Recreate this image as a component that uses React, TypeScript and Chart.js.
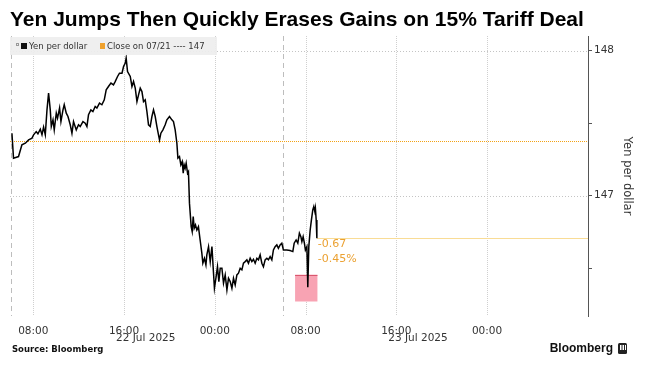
import React, { useEffect, useRef } from "react";
import { Chart, registerables } from "chart.js";

Chart.register(...registerables);

// Hours counted from 00:00 on 22 Jul 2025
const hours = [
  6.12, 6.26, 6.7, 7.0, 7.3, 7.59, 7.89, 8.03, 8.26, 8.41, 8.62, 8.77, 8.91, 9.06, 9.21, 9.35,
  9.5, 9.59, 9.74, 9.85, 10.03, 10.14, 10.32, 10.44, 10.62, 10.73, 10.91, 11.06, 11.26, 11.41,
  11.55, 11.79, 11.99, 12.14, 12.38, 12.58, 12.73, 12.87, 13.08, 13.26, 13.46, 13.61, 13.84,
  14.05, 14.26, 14.43, 14.63, 14.85, 15.07, 15.22, 15.43, 15.6, 15.82, 15.96, 16.11, 16.19,
  16.31, 16.55, 16.7, 16.84, 16.99, 17.14, 17.28, 17.43, 17.58, 17.72, 17.87, 18.02, 18.16,
  18.31, 18.46, 18.6, 18.75, 18.9, 19.04, 19.13, 19.25, 19.43, 19.63, 19.78, 20.01, 20.22,
  20.36, 20.51, 20.66, 20.75, 20.89, 21.01, 21.13, 21.22, 21.3, 21.39, 21.48, 21.6, 21.68,
  21.77, 21.92, 22.01, 22.1, 22.19, 22.3, 22.42, 22.56, 22.71, 22.86, 22.95, 23.09, 23.22,
  23.3, 23.45, 23.6, 23.75, 23.89, 23.97, 24.12, 24.24, 24.36, 24.48, 24.63, 24.77, 24.92,
  25.07, 25.21, 25.36, 25.51, 25.65, 25.8, 25.95, 26.09, 26.24, 26.39, 26.53, 26.68, 26.83,
  26.97, 27.12, 27.27, 27.41, 27.56, 27.71, 27.85, 28.0, 28.15, 28.29, 28.44, 28.59, 28.73,
  28.88, 29.03, 29.17, 29.32, 29.47, 29.61, 29.76, 29.91, 30.05, 30.35, 30.64, 30.88, 31.0,
  31.17, 31.32, 31.46, 31.59, 31.68, 31.79, 31.9, 31.99, 32.12, 32.2, 32.29, 32.41, 32.52,
  32.64, 32.73, 32.82, 32.87, 32.94, 33.0,
];
const yenPerDollar = [
  147.43, 147.258, 147.269, 147.35, 147.361, 147.384, 147.396, 147.419, 147.441, 147.426,
  147.458, 147.419, 147.472, 147.419, 147.591, 147.706, 147.591, 147.476, 147.522, 147.453,
  147.568, 147.534, 147.603, 147.51, 147.591, 147.626, 147.568, 147.545, 147.488, 147.43,
  147.51, 147.453, 147.488, 147.476, 147.51, 147.499, 147.476, 147.557, 147.591, 147.579,
  147.614, 147.603, 147.637, 147.626, 147.66, 147.729, 147.752, 147.775, 147.763, 147.786,
  147.821, 147.844, 147.844, 147.89, 147.913, 147.948, 147.855, 147.821, 147.752, 147.786,
  147.741, 147.648, 147.694, 147.741, 147.717, 147.648, 147.66, 147.579, 147.488, 147.476,
  147.545, 147.591, 147.545, 147.476, 147.419, 147.384, 147.43, 147.453, 147.488, 147.522,
  147.545, 147.522, 147.51, 147.453, 147.361, 147.258, 147.269, 147.212, 147.234, 147.154,
  147.212, 147.189, 147.223, 147.154, 147.165, 146.948, 146.786, 146.752, 146.855, 146.775,
  146.798, 146.763, 146.786, 146.694, 146.603, 146.534, 146.568, 146.522, 146.591, 146.648,
  146.545, 146.648, 146.465, 146.361, 146.441, 146.51, 146.407, 146.499, 146.499, 146.396,
  146.453, 146.35, 146.43, 146.407, 146.361, 146.43, 146.384, 146.453, 146.465, 146.499,
  146.488, 146.534, 146.545, 146.557, 146.534, 146.568, 146.545, 146.561, 146.534, 146.568,
  146.557, 146.591, 146.534, 146.51, 146.557, 146.568, 146.557, 146.579, 146.557, 146.625,
  146.648, 146.66, 146.637, 146.66, 146.672, 146.625, 146.625, 146.621, 146.614, 146.672,
  146.694, 146.672, 146.741, 146.717, 146.683, 146.717, 146.672, 146.625, 146.648, 146.368,
  146.648, 146.763, 146.832, 146.901, 146.924, 146.89, 146.913, 146.832, 146.706,
];

const closePrevious = 147.377;
const lastValue = 146.706;
const changeTexts = ["-0.67", "-0.45%"];

const xTickHours = [8, 16, 24, 32, 40, 48];
const xTickLabels = ["08:00", "16:00", "00:00", "08:00", "16:00", "00:00"];
const dateHours = [16, 40];
const dateLabels = ["22 Jul 2025", "23 Jul 2025"];
const sessionHours = [6, 30];

const yTicks = [146.5, 147, 147.5, 148];
const yGridValues = [147, 148];

const boxHours = [31.08, 33.05];
const boxValues = [146.27, 146.455];

const titleText = "Yen Jumps Then Quickly Erases Gains on 15% Tariff Deal";
const legendSeries = "Yen per dollar";
const legendClose = "Close on 07/21 ---- 147";
const axisTitle = "Yen per dollar";
const sourceText = "Source: Bloomberg";
const brandText = "Bloomberg";

const SANS = "'DejaVu Sans', sans-serif";

const decorPlugin = {
  id: "decor",
  beforeDatasetsDraw(chart: any) {
    const { ctx, chartArea: a, scales } = chart;
    const x = scales.x;
    const y = scales.y;
    ctx.save();
    ctx.lineWidth = 1;
    // vertical grid at time ticks
    ctx.strokeStyle = "#cfcfcf";
    ctx.setLineDash([1, 1]);
    xTickHours.forEach((h) => {
      const px = Math.round(x.getPixelForValue(h)) + 0.5;
      ctx.beginPath();
      ctx.moveTo(px, a.top);
      ctx.lineTo(px, a.bottom);
      ctx.stroke();
    });
    // horizontal grid
    ctx.setLineDash([1, 2]);
    ctx.strokeStyle = "#c4c4c4";
    yGridValues.forEach((v) => {
      const py = Math.round(y.getPixelForValue(v)) + 0.5;
      ctx.beginPath();
      ctx.moveTo(a.left, py);
      ctx.lineTo(a.right, py);
      ctx.stroke();
    });
    // session dashed lines
    ctx.setLineDash([5, 4]);
    ctx.strokeStyle = "#bdbdbd";
    sessionHours.forEach((h) => {
      const px = Math.round(x.getPixelForValue(h)) + 0.5;
      ctx.beginPath();
      ctx.moveTo(px, a.top);
      ctx.lineTo(px, a.bottom);
      ctx.stroke();
    });
    ctx.setLineDash([]);
    // previous close line (dotted, drawn as single-pixel dots)
    const cy = Math.round(y.getPixelForValue(closePrevious));
    ctx.fillStyle = "#f3a215";
    for (let px = Math.round(a.left); px < a.right; px += 2) {
      ctx.fillRect(px, cy, 1, 1);
    }
    // last value line
    ctx.fillStyle = "#f9dc95";
    const ly = Math.round(y.getPixelForValue(lastValue));
    const lx = Math.round(x.getPixelForValue(hours[hours.length - 1]));
    ctx.fillRect(lx, ly, a.right - lx, 1);
    // pink box
    const bx0 = x.getPixelForValue(boxHours[0]);
    const bx1 = x.getPixelForValue(boxHours[1]);
    const by0 = y.getPixelForValue(boxValues[1]);
    const by1 = y.getPixelForValue(boxValues[0]);
    ctx.fillStyle = "#f8a3b3";
    ctx.fillRect(bx0, by0, bx1 - bx0, by1 - by0);
    ctx.strokeStyle = "#d9576f";
    ctx.beginPath();
    ctx.moveTo(bx0, Math.round(by0) + 0.5);
    ctx.lineTo(bx1, Math.round(by0) + 0.5);
    ctx.stroke();
    ctx.restore();
  },
  afterDatasetsDraw(chart: any) {
    const { ctx, chartArea: a, scales } = chart;
    const x = scales.x;
    const y = scales.y;
    ctx.save();
    // change annotation
    ctx.fillStyle = "#eba132";
    ctx.font = `11px ${SANS}`;
    ctx.textBaseline = "middle";
    ctx.textAlign = "left";
    const tx = x.getPixelForValue(hours[hours.length - 1]) + 1;
    const ty = y.getPixelForValue(lastValue);
    ctx.fillText(changeTexts[0], tx, ty + 6);
    ctx.fillText(changeTexts[1], tx, ty + 21);

    // legend box
    ctx.fillStyle = "rgba(238,238,238,0.92)";
    ctx.fillRect(a.left, 37, 207, 18);
    ctx.strokeStyle = "#999";
    ctx.lineWidth = 1;
    ctx.strokeRect(16.5, 43.5, 2, 2);
    ctx.fillStyle = "#111";
    ctx.fillRect(21, 43, 6, 6);
    ctx.fillStyle = "#333";
    ctx.font = `8.5px ${SANS}`;
    ctx.fillText(legendSeries, 29, 46.5);
    ctx.fillStyle = "#f0a22e";
    ctx.fillRect(100, 43, 5, 6);
    ctx.fillStyle = "#333";
    ctx.fillText(legendClose, 107, 46.5);
    ctx.restore();
  },
  afterDraw(chart: any) {
    const { ctx, scales, chartArea: a } = chart;
    const x = scales.x;
    ctx.save();
    // title
    ctx.fillStyle = "#000";
    ctx.font = `bold 21px 'Liberation Sans', Arial, sans-serif`;
    ctx.textBaseline = "middle";
    ctx.textAlign = "left";
    ctx.fillText(titleText, 10, 20);
    // date labels
    ctx.fillStyle = "#333";
    ctx.font = `10.5px ${SANS}`;
    dateHours.forEach((h, i) => {
      ctx.fillText(dateLabels[i], x.getPixelForValue(h) - 8, 338);
    });
    // axis title
    ctx.save();
    ctx.translate(627, (a.top + a.bottom) / 2);
    ctx.rotate(Math.PI / 2);
    ctx.textAlign = "center";
    ctx.font = `11.5px ${SANS}`;
    ctx.fillText(axisTitle, 0, 0);
    ctx.restore();
    // footer
    ctx.fillStyle = "#111";
    ctx.font = `bold 8.5px ${SANS}`;
    ctx.fillText(sourceText, 12, 350);
    ctx.font = `bold 12px 'Liberation Sans', Arial, sans-serif`;
    ctx.textAlign = "right";
    ctx.fillText(brandText, 613, 349);
    ctx.fillStyle = "#222";
    ctx.beginPath();
    ctx.roundRect(618, 343, 9, 11, 1.5);
    ctx.fill();
    ctx.fillStyle = "#fff";
    ctx.fillRect(620, 345, 1.5, 5);
    ctx.fillRect(622.5, 345, 1.5, 5);
    ctx.fillRect(625, 345, 1, 5);
    ctx.restore();
  },
};

export default function App() {
  const ref = useRef<HTMLCanvasElement | null>(null);
  useEffect(() => {
    document.body.style.margin = "0";
    const canvas = ref.current;
    if (!canvas) return;
    const chart = new Chart(canvas, {
      type: "line",
      data: {
        datasets: [
          {
            label: legendSeries,
            data: hours.map((h, i) => ({ x: h, y: yenPerDollar[i] })),
            borderColor: "#000",
            borderWidth: 1.5,
            pointRadius: 0,
            tension: 0,
          },
        ],
      },
      options: {
        animation: false,
        responsive: false,
        devicePixelRatio: 1,
        layout: { padding: { left: 10, top: 36, right: 0, bottom: 0 } },
        plugins: { legend: { display: false }, tooltip: { enabled: false }, title: { display: false } },
        scales: {
          x: {
            type: "linear",
            min: 5.95,
            max: 56.9,
            afterBuildTicks: (s: any) => {
              s.ticks = xTickHours.map((v) => ({ value: v }));
            },
            afterFit: (s: any) => {
              s.height = 54;
            },
            grid: { display: false },
            border: { display: false },
            ticks: {
              autoSkip: false,
              maxRotation: 0,
              padding: 1,
              color: "#333",
              font: { family: SANS, size: 10.5 },
              callback: (v: any) => {
                const i = xTickHours.indexOf(Number(v));
                return i >= 0 ? xTickLabels[i] : "";
              },
            },
          },
          y: {
            position: "right",
            min: 146.17,
            max: 148.1,
            afterBuildTicks: (s: any) => {
              s.ticks = yTicks.map((v) => ({ value: v }));
            },
            afterFit: (s: any) => {
              s.width = 57;
            },
            grid: { display: true, drawOnChartArea: false, drawTicks: true, tickLength: 4, color: "#555" },
            border: { display: true, color: "#555" },
            ticks: {
              padding: 2,
              color: "#333",
              font: { family: SANS, size: 10.5 },
              callback: (v: any) => (Number.isInteger(Number(v)) ? String(v) : ""),
            },
          },
        },
      },
      plugins: [decorPlugin],
    });
    return () => chart.destroy();
  }, []);
  return <canvas ref={ref} width={645} height={370} style={{ display: "block" }} />;
}
